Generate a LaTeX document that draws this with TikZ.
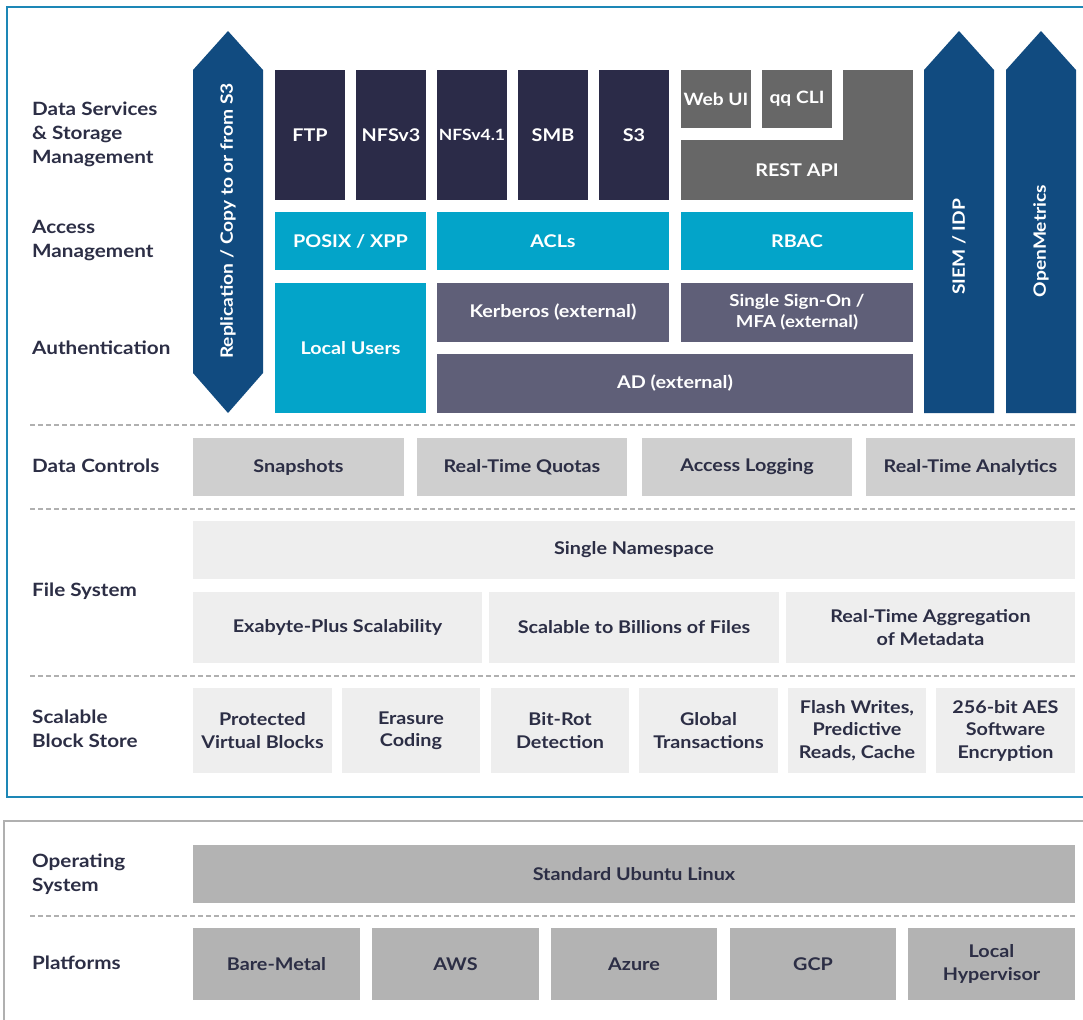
\documentclass[tikz,border=0pt]{standalone}
\usepackage{fontspec}
\setmainfont{Lato}[FakeStretch=1.13]
\definecolor{cNavy}{HTML}{2B2B48}
\definecolor{cGrayD}{HTML}{676767}
\definecolor{cCyan}{HTML}{03A4C9}
\definecolor{cSlate}{HTML}{5F5F78}
\definecolor{cArrow}{HTML}{114B80}
\definecolor{cFrame}{HTML}{1D87B6}
\definecolor{cCtrl}{HTML}{CFCFCF}
\definecolor{cLight}{HTML}{EEEEEE}
\definecolor{cOS}{HTML}{B3B3B3}
\definecolor{cText}{HTML}{2C2E45}
\definecolor{cDash}{HTML}{B0B0B0}
\newcommand\mkbox[7]{\node[#1, minimum width={(#5-#3)*1pt}, minimum height={(#6-#4)*1pt}, anchor=north west] (#2) at (#3,#4) {#7};}
\begin{document}
\begin{tikzpicture}[x=1pt,y=-1pt,
  blkbase/.style={inner sep=0pt, outer sep=0pt, align=center, font=\bfseries\fontsize{17.5}{22.5}\selectfont},
  navybox/.style={blkbase, fill=cNavy, text=white},
  graybox/.style={blkbase, fill=cGrayD, text=white},
  cyanbox/.style={blkbase, fill=cCyan, text=white},
  slatebox/.style={blkbase, fill=cSlate, text=white},
  ctrlbox/.style={blkbase, fill=cCtrl, text=cText},
  lightbox/.style={blkbase, fill=cLight, text=cText},
  osbox/.style={blkbase, fill=cOS, text=cText},
  rowlabel/.style={anchor=west, align=left, inner sep=0pt, text=cText, font=\bfseries\fontsize{18.3}{24}\selectfont},
  sepline/.style={cDash, line width=1.2pt, dash pattern=on 5pt off 3pt},
  arrowshape/.style={fill=cArrow, draw=none},
  arrowtext/.style={rotate=90, text=white, inner sep=0pt, font=\bfseries\fontsize{17}{22}\selectfont}
]
\useasboundingbox (0,0) rectangle (1083,1019);
\fill[white] (0,0) rectangle (1083,1019);
% frames
\draw[cFrame, line width=2.6pt] (7,7) rectangle (1095,797);
\draw[cDash, line width=2pt] (4,821) rectangle (1095,1035);

% row labels
\node[rowlabel] (lDS) at (32,134) {Data Services\\\& Storage\\Management};
\node[rowlabel] (lAM) at (32,241) {Access\\Management};
\node[rowlabel] (lAU) at (32,348) {Authentication};
\node[rowlabel] (lDC) at (32,466) {Data Controls};
\node[rowlabel] (lFS) at (32,591) {File System};
\node[rowlabel] (lBS) at (32,729) {Scalable\\Block Store};
\node[rowlabel] (lOS) at (32,874) {Operating\\System};
\node[rowlabel] (lPF) at (32,963) {Platforms};

% left arrow
\fill[arrowshape] (193,70) -- (228,31) -- (263,70) -- (263,373) -- (228,413) -- (193,373) -- cycle;
\node[arrowtext] (tRep) at (228,221) {Replication / Copy to or from S3};
% right arrows
\fill[arrowshape] (924,70) -- (959,31) -- (994,70) -- (994,413) -- (924,413) -- cycle;
\node[arrowtext] (tSiem) at (959,247) {SIEM / IDP};
\fill[arrowshape] (1006,70) -- (1041,31) -- (1076,70) -- (1076,413) -- (1006,413) -- cycle;
\node[arrowtext] (tOM) at (1041,241) {OpenMetrics};

% protocols
\mkbox{navybox}{ftp}{275}{70}{345}{200}{FTP}
\mkbox{navybox}{nfs3}{356}{70}{426}{200}{NFSv3}
\mkbox{navybox,font=\bfseries\fontsize{15.5}{20}\selectfont}{nfs4}{437}{70}{507}{200}{NFSv4.1}
\mkbox{navybox}{smb}{518}{70}{588}{200}{SMB}
\mkbox{navybox}{s3}{599}{70}{669}{200}{S3}
\mkbox{graybox,font=\bfseries\fontsize{17}{22}\selectfont}{webui}{681}{70}{751}{128}{Web UI}
\mkbox{graybox,font=\bfseries\fontsize{17}{22}\selectfont}{qqcli}{762}{70}{832}{128}{qq CLI}
\fill[cGrayD] (843,70) rectangle (913,141);
\mkbox{graybox}{rest}{681}{140}{913}{200}{REST API}

% access
\mkbox{cyanbox}{posix}{275}{212}{426}{270}{POSIX / XPP}
\mkbox{cyanbox}{acl}{437}{212}{669}{270}{ACLs}
\mkbox{cyanbox}{rbac}{681}{212}{913}{270}{RBAC}

% auth
\mkbox{cyanbox}{local}{275}{283}{426}{413}{Local Users}
\mkbox{slatebox}{krb}{437}{283}{669}{342}{Kerberos (external)}
\mkbox{slatebox,font=\bfseries\fontsize{16.5}{21}\selectfont}{sso}{681}{283}{913}{342}{Single Sign-On /\\MFA (external)}
\mkbox{slatebox}{ad}{437}{354}{913}{413}{AD (external)}

\draw[sepline] (30,425) -- (1075,425);

% data controls
\mkbox{ctrlbox}{snap}{193}{438}{404}{496}{Snapshots}
\mkbox{ctrlbox}{quota}{417}{438}{627}{496}{Real-Time Quotas}
\mkbox{ctrlbox}{alog}{642}{438}{852}{496}{Access Logging}
\mkbox{ctrlbox}{rta}{866}{438}{1075}{496}{Real-Time Analytics}

\draw[sepline] (30,509) -- (1075,509);

% file system
\mkbox{lightbox}{ns}{193}{521}{1075}{579}{Single Namespace}
\mkbox{lightbox}{exa}{193}{592}{482}{663}{Exabyte-Plus Scalability}
\mkbox{lightbox}{bil}{489}{592}{779}{663}{Scalable to Billions of Files}
\mkbox{lightbox}{agg}{786}{592}{1075}{663}{Real-Time Aggregation\\of Metadata}

\draw[sepline] (30,676) -- (1075,676);

% block store
\mkbox{lightbox}{pvb}{193}{688}{332}{773}{Protected\\Virtual Blocks}
\mkbox{lightbox}{ec}{342}{688}{480}{773}{Erasure\\Coding}
\mkbox{lightbox}{brd}{491}{688}{629}{773}{Bit-Rot\\Detection}
\mkbox{lightbox}{gt}{639}{688}{778}{773}{Global\\Transactions}
\mkbox{lightbox}{fw}{788}{688}{926}{773}{Flash Writes,\\Predictive\\Reads, Cache}
\mkbox{lightbox}{aes}{936}{688}{1075}{773}{256-bit AES\\Software\\Encryption}

% OS
\mkbox{osbox}{ubu}{193}{845}{1075}{903}{Standard Ubuntu Linux}
\draw[sepline] (30,916) -- (1075,916);
\mkbox{osbox}{bm}{193}{928}{360}{1000}{Bare-Metal}
\mkbox{osbox}{aws}{372}{928}{539}{1000}{AWS}
\mkbox{osbox}{az}{551}{928}{717}{1000}{Azure}
\mkbox{osbox}{gcp}{730}{928}{896}{1000}{GCP}
\mkbox{osbox}{lh}{908}{928}{1075}{1000}{Local\\Hypervisor}
\end{tikzpicture}
\end{document}
